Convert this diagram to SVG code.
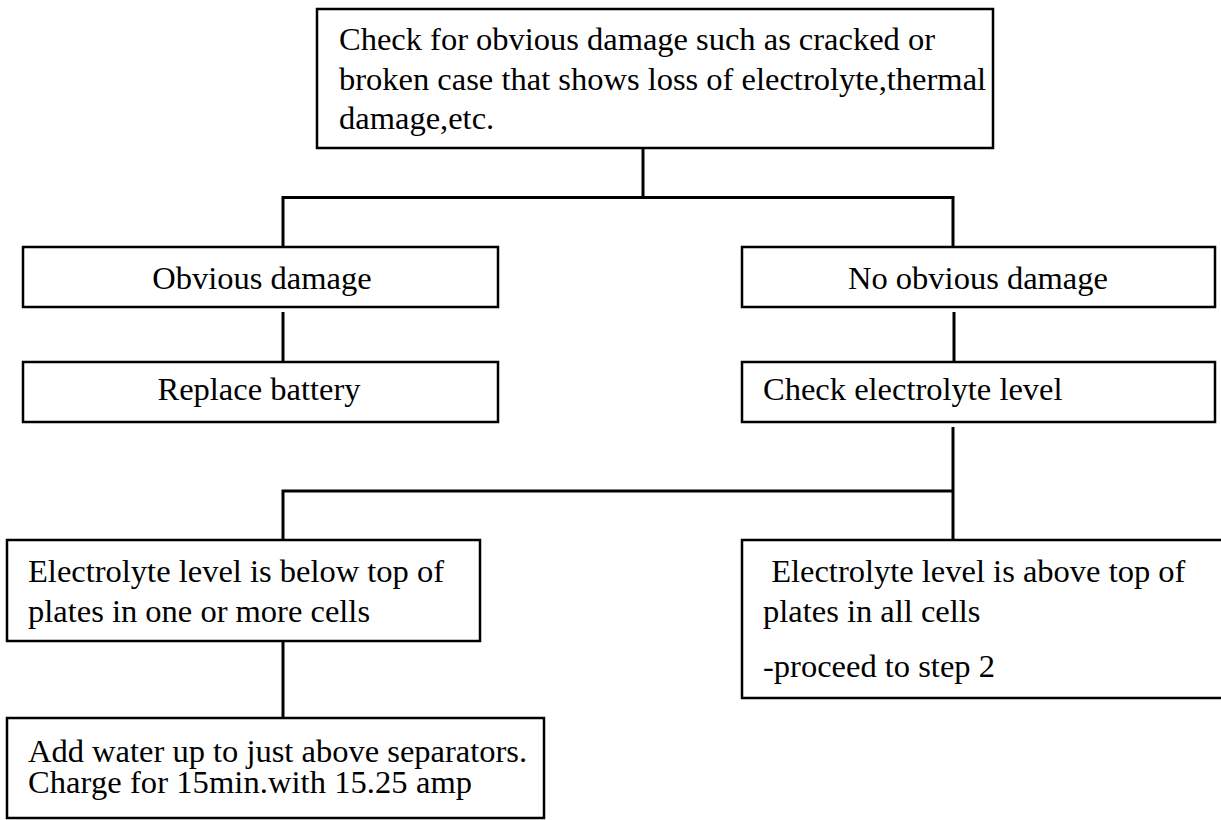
<svg xmlns="http://www.w3.org/2000/svg" width="1221" height="820" viewBox="0 0 1221 820">
<style>
.box{fill:#fff;stroke:#000;stroke-width:2.5}
.t{font-family:"Liberation Serif","Times New Roman",serif;font-size:32.5px;fill:#000}
.c{text-anchor:middle}
.ln{fill:none;stroke:#000;stroke-width:3}
</style>
<rect width="1221" height="820" fill="#fff"/>
<g id="connectors">
<path class="ln" d="M643,148 V198"/>
<path class="ln" d="M283,247 V197.5 H953 V247"/>
<path class="ln" d="M283,312 V362"/>
<path class="ln" d="M954,312 V362"/>
<path class="ln" d="M953,427 V540"/>
<path class="ln" d="M283,540 V491 H953"/>
<path class="ln" d="M283,638 V718"/>
</g>
<g id="n-top">
<rect class="box" x="317" y="9" width="676" height="139"/>
<text class="t" x="339" y="50" textLength="596" lengthAdjust="spacing">Check for obvious damage such as cracked or</text>
<text class="t" x="339" y="90">broken case that shows loss of electrolyte,thermal</text>
<text class="t" x="339" y="129">damage,etc.</text>
</g>
<g id="n-obvious">
<rect class="box" x="23" y="247" width="475" height="60"/>
<text class="t c" x="262" y="289">Obvious damage</text>
</g>
<g id="n-noobvious">
<rect class="box" x="742" y="247" width="473" height="60"/>
<text class="t c" x="978" y="289">No obvious damage</text>
</g>
<g id="n-replace">
<rect class="box" x="23" y="362" width="475" height="60"/>
<text class="t c" x="259" y="400">Replace battery</text>
</g>
<g id="n-check">
<rect class="box" x="742" y="362" width="473" height="60"/>
<text class="t" x="763" y="400">Check electrolyte level</text>
</g>
<g id="n-below">
<rect class="box" x="7" y="540" width="473" height="101"/>
<text class="t" x="28" y="582">Electrolyte level is below top of</text>
<text class="t" x="28" y="622">plates in one or more cells</text>
</g>
<g id="n-above">
<rect class="box" x="742" y="540" width="484" height="158"/>
<text class="t" x="763" y="582" xml:space="preserve"> Electrolyte level is above top of</text>
<text class="t" x="763" y="622">plates in all cells</text>
<text class="t" x="763" y="677">-proceed to step 2</text>
</g>
<g id="n-add">
<rect class="box" x="7" y="718" width="537" height="100"/>
<text class="t" x="28" y="762">Add water up to just above separators.</text>
<text class="t" x="28" y="793" textLength="444" lengthAdjust="spacing">Charge for 15min.with 15.25 amp</text>
</g>
</svg>
